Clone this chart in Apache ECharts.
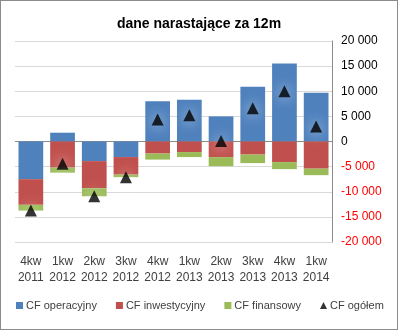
<!DOCTYPE html>
<html><head><meta charset="utf-8">
<script src="https://cdn.jsdelivr.net/npm/echarts@6/dist/echarts.min.js"></script>
<style>
html,body{margin:0;padding:0;background:#fff;}
#c{width:398px;height:330px;box-sizing:border-box;border:1px solid #8c8c8c;}
</style></head><body>
<div id="c"></div>
<script>
const categories = ['4kw\n2011','1kw\n2012','2kw\n2012','3kw\n2012','4kw\n2012','1kw\n2013','2kw\n2013','3kw\n2013','4kw\n2013','1kw\n2014'];
const cfOperacyjny = [-7500, 1750, -3900, -3100, 8000, 8300, 5000, 10900, 15500, 9700];
const cfInwestycyjny = [-5100, -5200, -5400, -3500, -2400, -2100, -3100, -2600, -4100, -5400];
const cfFinansowy = [-1150, -1000, -1600, -500, -1200, -1000, -1800, -1700, -1400, -1300];
const cfOgolem = [-13750, -4450, -10900, -7100, 4400, 5200, 100, 6600, 10000, 3000];
const yTicks = [-20000, -15000, -10000, -5000, 0, 5000, 10000, 15000, 20000];

const chart = echarts.init(document.getElementById('c'));
const fmt = v => {
  const s = Math.abs(v).toString().replace(/\B(?=(\d{3})+(?!\d))/g, ' ');
  return v < 0 ? '{neg|-' + s + '}' : '{pos|' + s + '}';
};
const gridColors = yTicks.map(v => v === 0 ? '#8c8c8c' : '#d9d9d9');
const font = 'Liberation Sans';
chart.setOption({
  animation: false,
  title: {
    text: 'dane narastające za 12m', left: 'center', top: 11,
    textStyle: { fontFamily: font, fontSize: 14, fontWeight: 'bold', color: '#000' }
  },
  legend: {
    left: 10, top: 294, itemWidth: 7, itemHeight: 7, itemGap: 19,
    textStyle: { fontFamily: font, fontSize: 11, color: '#404040', padding: [0, 0, 0, -2] },
    data: [
      { name: 'CF operacyjny', icon: 'rect' },
      { name: 'CF inwestycyjny', icon: 'rect' },
      { name: 'CF finansowy', icon: 'rect' },
      { name: 'CF ogółem', icon: 'triangle', itemStyle: { color: '#000' } }
    ]
  },
  grid: { left: 14, right: 65, top: 40, bottom: 87 },
  xAxis: {
    type: 'category', data: categories,
    axisLine: { show: false }, axisTick: { show: false },
    axisLabel: { interval: 0, hideOverlap: false, fontFamily: font, fontSize: 12, color: '#404040', lineHeight: 16, margin: 12 }
  },
  yAxis: {
    type: 'value', position: 'right', min: -20000, max: 20000, interval: 5000,
    axisLine: { show: true, lineStyle: { color: '#8c8c8c' } },
    axisTick: { show: false },
    splitLine: { show: true, lineStyle: { color: gridColors } },
    axisLabel: {
      fontFamily: font, fontSize: 12, margin: 9, formatter: fmt,
      rich: { neg: { color: '#ff0000', fontFamily: font, fontSize: 12 }, pos: { color: '#000', fontFamily: font, fontSize: 12 } }
    }
  },
  series: [
    { name: 'CF operacyjny', type: 'bar', stack: 'cf', data: cfOperacyjny, barCategoryGap: '22%', itemStyle: { color: '#4f81bd' } },
    { name: 'CF inwestycyjny', type: 'bar', stack: 'cf', data: cfInwestycyjny, itemStyle: { color: '#c0504d' } },
    { name: 'CF finansowy', type: 'bar', stack: 'cf', data: cfFinansowy, itemStyle: { color: '#9bbb59' } },
    { name: 'CF ogółem', type: 'scatter', data: cfOgolem, symbol: 'triangle', symbolSize: 12, z: 5,
      itemStyle: { color: '#000', shadowColor: 'rgba(255,255,255,0.9)', shadowBlur: 14 } }
  ]
});
</script>
</body></html>
